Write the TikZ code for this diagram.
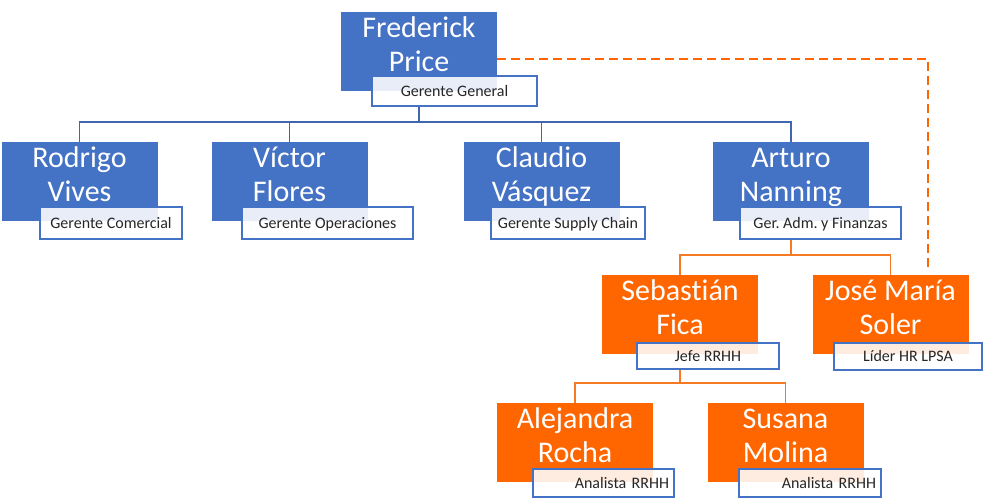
\documentclass[tikz,border=0pt]{standalone}
\usepackage{fontspec}
\setmainfont{Carlito}[Ligatures=NoCommon]
\usepackage{tikz}
\usetikzlibrary{calc,backgrounds}
\frenchspacing

\definecolor{boxblue}{HTML}{4472C4}
\definecolor{boxorange}{HTML}{FF6600}
\definecolor{lineblue}{HTML}{3F66AE}
\definecolor{lineorange}{HTML}{F47A24}

\newcommand{\twolines}[2]{\rule{0pt}{25pt}#1\\#2\rule[-19.5pt]{0pt}{19.5pt}}

\tikzset{
  namebox/.style = {rectangle, minimum width=156pt, minimum height=79pt,
    inner ysep=0pt, inner xsep=2pt, align=center, text=white,
    font=\fontsize{30}{34.5}\selectfont},
  bluebox/.style = {namebox, fill=boxblue},
  orangebox/.style = {namebox, fill=boxorange},
  rolebox/.style = {rectangle, draw=boxblue, line width=1.2pt,
    fill=white, fill opacity=0.88, text opacity=1, text=black!85,
    minimum height=30pt, inner xsep=5pt, text height=10pt, text depth=0pt,
    font=\fontsize{16}{18}\selectfont},
  rightrole/.style = {rolebox, align=right},
  bluelink/.style = {draw=lineblue, line width=1.2pt},
  orangelink/.style = {draw=lineorange, line width=1.4pt},
  dashlink/.style = {draw=boxorange, line width=2pt, dash pattern=on 9pt off 5pt}
}

\begin{document}
\begin{tikzpicture}[x=1pt, y=-1pt]
  \useasboundingbox (0,0) rectangle (984,503);

  % gerente general
  \node[bluebox] (fred) at (419,51.5) {\twolines{Frederick}{Price}};
  \node[rolebox, minimum width=165pt] (fredrole) at (454.5,91) {Gerente General};

  % gerentes
  \node[bluebox] (rod) at (79.5,181.5) {\twolines{Rodrigo}{Vives}};
  \node[rolebox, minimum width=142pt, minimum height=32pt] (rodrole) at (111,223) {Gerente Comercial};
  \node[bluebox] (vic) at (289.5,181.5) {\twolines{Víctor}{Flores}};
  \node[rolebox, minimum width=171pt, minimum height=32pt] (vicrole) at (327.5,223) {Gerente Operaciones};
  \node[bluebox] (cla) at (541.5,181.5) {\twolines{Claudio}{Vásquez}};
  \node[rolebox, minimum width=154pt, minimum height=32pt] (clarole) at (568,223) {Gerente Supply Chain};
  \node[bluebox] (art) at (791,181.5) {\twolines{Arturo}{Nanning}};
  \node[rolebox, minimum width=161pt, minimum height=32pt] (artrole) at (820.5,223) {Ger. Adm. y Finanzas};

  % RRHH
  \node[orangebox] (seb) at (680,314.5) {\twolines{Sebastián}{Fica}};
  \node[rolebox, minimum width=142pt, minimum height=26pt] (sebrole) at (708,356) {Jefe RRHH};
  \node[orangebox] (jose) at (890.5,314.5) {\twolines{José María}{Soler}};
  \node[rolebox, minimum width=148pt, minimum height=27pt] (joserole) at (908,356.5) {Líder HR LPSA};

  % analistas
  \node[orangebox] (ale) at (575,442.5) {\twolines{Alejandra}{Rocha}};
  \node[rightrole, text width=131pt, minimum height=28pt] (alerole) at (603.5,483) {Analista RRHH};
  \node[orangebox] (sus) at (785.5,442.5) {\twolines{Susana}{Molina}};
  \node[rightrole, text width=132pt, minimum height=28pt] (susrole) at (810,483) {Analista RRHH};

  \begin{scope}[on background layer]
    % lineas azules
    \coordinate (busA) at ($(fred.south |- 0,122)$);
    \path[bluelink] (fred.south |- fredrole.south) -- (busA);
    \path[bluelink] (rod.north) |- (busA) -| (art.north);
    \path[bluelink] (vic.north) -- (vic.north |- busA);
    \path[bluelink] (cla.north) -- (cla.north |- busA);

    % lineas naranjas
    \coordinate (busB) at ($(art.south |- 0,255)$);
    \path[orangelink] (art.south |- artrole.south) -- (busB);
    \path[orangelink] (seb.north) |- (busB) -| (jose.north);
    \coordinate (busC) at ($(seb.south |- 0,383)$);
    \path[orangelink] (seb.south |- sebrole.south) -- (busC);
    \path[orangelink] (ale.north) |- (busC) -| (sus.north);

    % linea punteada
    \path[dashlink] ([yshift=-7.5pt]fred.east) -| ([xshift=37.5pt,yshift=7pt]jose.north);
  \end{scope}
\end{tikzpicture}
\end{document}
